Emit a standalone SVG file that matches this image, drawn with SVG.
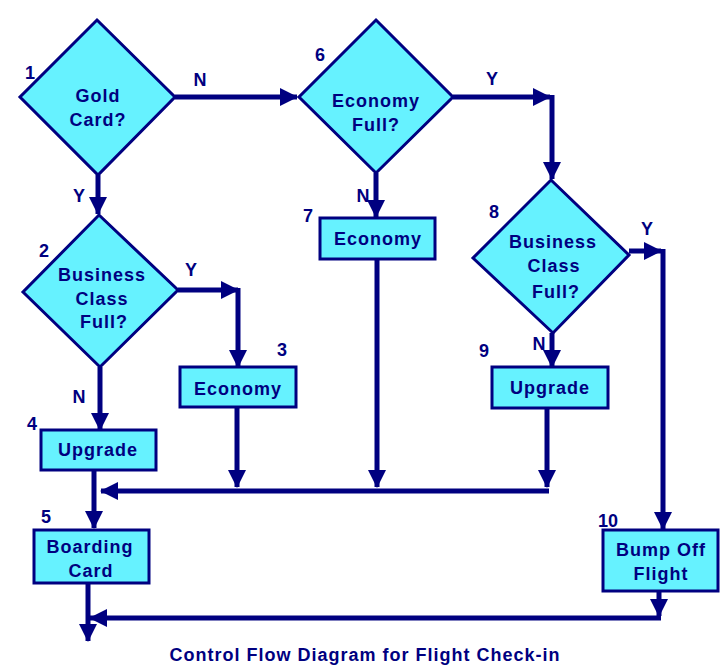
<svg xmlns="http://www.w3.org/2000/svg" width="721" height="671" viewBox="0 0 721 671">
<defs>
<marker id="ah" markerUnits="userSpaceOnUse" markerWidth="18" markerHeight="18" viewBox="0 0 18 18" refX="17" refY="9" orient="auto">
<path d="M0,0 L18,9 L0,18 Z" fill="#000080"/>
</marker>
<style>
.shape{fill:#66F2FF;stroke:#000080;stroke-width:3}
.t{font-family:"Liberation Sans",Arial,sans-serif;font-weight:bold;font-size:18px;fill:#000080;letter-spacing:1px;text-anchor:middle}
.lbl{font-family:"Liberation Sans",Arial,sans-serif;font-weight:bold;font-size:18px;fill:#000080;text-anchor:middle}
.c{fill:none;stroke:#000080;stroke-width:5}
.a{marker-end:url(#ah)}
</style>
</defs>
<rect width="721" height="671" fill="#fff"/>

<g id="connectors">
<path class="c a" d="M175,97 H297"/>
<path class="c a" d="M98,175 V214"/>
<path class="c a" d="M453,97 H550"/>
<path class="c a" d="M552,95 V179"/>
<path class="c a" d="M376,173 V217"/>
<path class="c a" d="M178,290 H238"/>
<path class="c a" d="M238,288 V367"/>
<path class="c a" d="M100,367 V430"/>
<path class="c a" d="M629,251 H661"/>
<path class="c a" d="M663,249 V529"/>
<path class="c a" d="M552,333 V367"/>
<path class="c a" d="M237,407 V487"/>
<path class="c a" d="M377,259 V487"/>
<path class="c a" d="M547,408 V487"/>
<path class="c a" d="M549,491 H101"/>
<path class="c a" d="M94,470 V528"/>
<path class="c a" d="M659,591 V616"/>
<path class="c a" d="M661,618 H90"/>
<path class="c a" d="M88,583 V641"/>
</g>
<g id="connector-labels">
<text class="lbl" x="200" y="86">N</text>
<text class="lbl" x="79" y="202">Y</text>
<text class="lbl" x="492" y="85">Y</text>
<text class="lbl" x="363" y="202">N</text>
<text class="lbl" x="191" y="276">Y</text>
<text class="lbl" x="79" y="403">N</text>
<text class="lbl" x="647" y="235">Y</text>
<text class="lbl" x="539" y="350">N</text>
</g>

<g id="node1">
<polygon class="shape" points="97,20 175,97 98,175 20,97"/>
<text class="t" x="98" y="102">Gold</text>
<text class="t" x="98" y="126">Card?</text>
<text class="lbl" x="30" y="79">1</text>
</g>
<g id="node2">
<polygon class="shape" points="99,215 178,290 100,367 23,292"/>
<text class="t" x="102" y="281">Business</text>
<text class="t" x="102" y="305">Class</text>
<text class="t" x="104" y="328">Full?</text>
<text class="lbl" x="44" y="257">2</text>
</g>
<g id="node3">
<rect class="shape" x="180" y="367" width="116" height="40"/>
<text class="t" x="238" y="395">Economy</text>
<text class="lbl" x="282" y="356">3</text>
</g>
<g id="node4">
<rect class="shape" x="41" y="430" width="115" height="40"/>
<text class="t" x="98" y="456">Upgrade</text>
<text class="lbl" x="32" y="430">4</text>
</g>
<g id="node5">
<rect class="shape" x="34" y="530" width="115" height="53"/>
<text class="t" x="90" y="553">Boarding</text>
<text class="t" x="91" y="577">Card</text>
<text class="lbl" x="46" y="523">5</text>
</g>
<g id="node6">
<polygon class="shape" points="376,20 453,97 376,173 299,97"/>
<text class="t" x="376" y="107">Economy</text>
<text class="t" x="376" y="131">Full?</text>
<text class="lbl" x="320" y="61">6</text>
</g>
<g id="node7">
<rect class="shape" x="320" y="218" width="115" height="41"/>
<text class="t" x="378" y="245">Economy</text>
<text class="lbl" x="308" y="222">7</text>
</g>
<g id="node8">
<polygon class="shape" points="551,180 629,255 553,333 473,258"/>
<text class="t" x="553" y="248">Business</text>
<text class="t" x="554" y="272">Class</text>
<text class="t" x="556" y="298">Full?</text>
<text class="lbl" x="494" y="218">8</text>
</g>
<g id="node9">
<rect class="shape" x="492" y="367" width="116" height="41"/>
<text class="t" x="550" y="394">Upgrade</text>
<text class="lbl" x="484" y="357">9</text>
</g>
<g id="node10">
<rect class="shape" x="603" y="530" width="115" height="61"/>
<text class="t" x="661" y="556">Bump Off</text>
<text class="t" x="661" y="580">Flight</text>
<text class="lbl" x="608" y="527">10</text>
</g>

<text class="t" x="365" y="661">Control Flow Diagram for Flight Check-in</text>
</svg>
